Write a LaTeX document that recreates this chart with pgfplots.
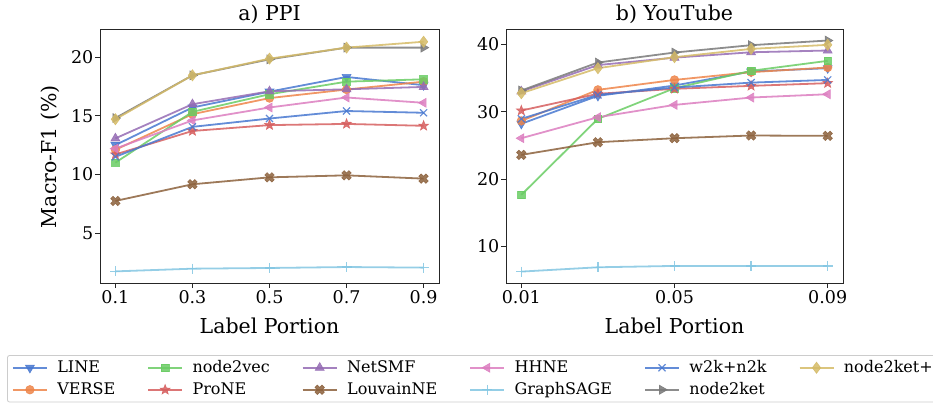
\documentclass[border=0pt]{standalone}
\usepackage{fontspec}
\setmainfont{DejaVu Serif}
\usepackage{pgfplots}
\pgfplotsset{compat=1.18}
\usetikzlibrary{plotmarks}

\definecolor{cblue}{HTML}{4878D0}
\definecolor{corange}{HTML}{EE854A}
\definecolor{cgreen}{HTML}{6ACC64}
\definecolor{cred}{HTML}{D65F5F}
\definecolor{cpurple}{HTML}{956CB4}
\definecolor{cbrown}{HTML}{8C613C}
\definecolor{cpink}{HTML}{DC7EC0}
\definecolor{cgray}{HTML}{797979}
\definecolor{colive}{HTML}{D5BB67}
\definecolor{ccyan}{HTML}{82C6E2}
\definecolor{axcol}{HTML}{262626}

\pgfdeclareplotmark{fstar}{%
  \pgfpathmoveto{\pgfpointpolar{90}{\pgfplotmarksize}}%
  \pgfpathlineto{\pgfpointpolar{126}{0.42\pgfplotmarksize}}%
  \pgfpathlineto{\pgfpointpolar{162}{\pgfplotmarksize}}%
  \pgfpathlineto{\pgfpointpolar{198}{0.42\pgfplotmarksize}}%
  \pgfpathlineto{\pgfpointpolar{234}{\pgfplotmarksize}}%
  \pgfpathlineto{\pgfpointpolar{270}{0.42\pgfplotmarksize}}%
  \pgfpathlineto{\pgfpointpolar{306}{\pgfplotmarksize}}%
  \pgfpathlineto{\pgfpointpolar{342}{0.42\pgfplotmarksize}}%
  \pgfpathlineto{\pgfpointpolar{18}{\pgfplotmarksize}}%
  \pgfpathlineto{\pgfpointpolar{54}{0.42\pgfplotmarksize}}%
  \pgfpathclose
  \pgfusepathqfillstroke}

\pgfdeclareplotmark{fX}{%
  \pgftransformrotate{45}%
  \pgfpathmoveto{\pgfpoint{0.33\pgfplotmarksize}{\pgfplotmarksize}}%
  \pgfpathlineto{\pgfpoint{0.33\pgfplotmarksize}{0.33\pgfplotmarksize}}%
  \pgfpathlineto{\pgfpoint{\pgfplotmarksize}{0.33\pgfplotmarksize}}%
  \pgfpathlineto{\pgfpoint{\pgfplotmarksize}{-0.33\pgfplotmarksize}}%
  \pgfpathlineto{\pgfpoint{0.33\pgfplotmarksize}{-0.33\pgfplotmarksize}}%
  \pgfpathlineto{\pgfpoint{0.33\pgfplotmarksize}{-\pgfplotmarksize}}%
  \pgfpathlineto{\pgfpoint{-0.33\pgfplotmarksize}{-\pgfplotmarksize}}%
  \pgfpathlineto{\pgfpoint{-0.33\pgfplotmarksize}{-0.33\pgfplotmarksize}}%
  \pgfpathlineto{\pgfpoint{-\pgfplotmarksize}{-0.33\pgfplotmarksize}}%
  \pgfpathlineto{\pgfpoint{-\pgfplotmarksize}{0.33\pgfplotmarksize}}%
  \pgfpathlineto{\pgfpoint{-0.33\pgfplotmarksize}{0.33\pgfplotmarksize}}%
  \pgfpathlineto{\pgfpoint{-0.33\pgfplotmarksize}{\pgfplotmarksize}}%
  \pgfpathclose
  \pgfusepathqfillstroke}

\pgfplotsset{
  sLINE/.style={color=cblue, opacity=0.85, line width=1.8pt, mark=triangle*, mark size=5.2pt, mark options={solid, rotate=180, line width=0.6pt}},
  sVERSE/.style={color=corange, opacity=0.85, line width=1.8pt, mark=*, mark size=4.3pt, mark options={solid, line width=0.6pt}},
  snodevec/.style={color=cgreen, opacity=0.85, line width=1.8pt, mark=square*, mark size=3.8pt, mark options={solid, line width=0.6pt}},
  sProNE/.style={color=cred, opacity=0.85, line width=1.8pt, mark=fstar, mark size=5.2pt, mark options={solid, line width=0.6pt}},
  sNetSMF/.style={color=cpurple, opacity=0.85, line width=1.8pt, mark=triangle*, mark size=5.2pt, mark options={solid, line width=0.6pt}},
  sLouvain/.style={color=cbrown, opacity=0.85, line width=1.8pt, mark=fX, mark size=5pt, mark options={solid, line width=0.6pt}},
  sHHNE/.style={color=cpink, opacity=0.85, line width=1.8pt, mark=triangle*, mark size=5.2pt, mark options={solid, rotate=90, line width=0.6pt}},
  sSAGE/.style={color=ccyan, opacity=0.85, line width=1.8pt, mark=+, mark size=5pt, mark options={solid, line width=1.2pt}},
  swk/.style={color=cblue, opacity=0.85, line width=1.8pt, mark=x, mark size=5pt, mark options={solid, line width=1.2pt}},
  snk/.style={color=cgray, opacity=0.85, line width=1.8pt, mark=triangle*, mark size=5.2pt, mark options={solid, rotate=-90, line width=0.6pt}},
  snkp/.style={color=colive, opacity=0.85, line width=1.8pt, mark=diamond*, mark size=5.6pt, mark options={solid, line width=0.6pt}},
  common/.style={
    scale only axis,
    height=253pt,
    tick align=outside,
    major tick length=5pt,
    xtick pos=bottom,
    ytick pos=left,
    scaled x ticks=false,
    scaled y ticks=false,
    axis line style={line width=1pt, color=axcol},
    tick style={line width=1pt, color=axcol},
    ticklabel style={font=\fontsize{17.5}{20}\selectfont, color=black},
    /pgf/number format/assume math mode=true,
    title style={font=\fontsize{20.5}{24}\selectfont, at={(axis description cs:0.5,1.04)}, anchor=center},
    label style={font=\fontsize{20.5}{24}\selectfont},
    xlabel style={at={(axis description cs:0.5,-0.17)}, anchor=center},
    y tick label style={inner sep=1.5pt},
    x tick label style={inner sep=2pt},
  },
}

\begin{document}
\begin{tikzpicture}
\useasboundingbox (0pt,0pt) rectangle (933pt,402pt);

\begin{axis}[common,
  name=left,
  at={(100pt,119pt)}, anchor=south west,
  width=339pt,
  xmin=0.06, xmax=0.94, ymin=0.75, ymax=22.3,
  xtick={0.1,0.3,0.5,0.7,0.9},
  xticklabels={0.1,0.3,0.5,0.7,0.9},
  ytick={5,10,15,20},
  yticklabels={5,10,15,20},
  title={a) PPI},
  xlabel={Label Portion},
  ylabel={Macro-F1 (\%)},
  ylabel style={at={(axis description cs:-0.1475,0.5)}, anchor=center, rotate=0},
  legend columns=6,
  legend cell align=left,
  legend image code/.code={\draw[mark repeat=2,mark phase=2,#1] plot coordinates {(0pt,0pt) (17pt,0pt) (34pt,0pt)};},
  legend style={
    at={(axis description cs:-0.274,-0.285)}, anchor=north west,
    draw=black!20, line width=0.8pt, rounded corners=2pt, fill=white,
    font=\fontsize{16}{19}\selectfont,
    inner xsep=4.5pt, inner ysep=3pt,
    nodes={inner sep=1.5pt, text height=12pt, text depth=3.5pt},
    row sep=3.5pt,
    /tikz/every odd column/.append style={column sep=8pt},
    /tikz/every even column/.append style={column sep=30.5pt},
  },
]
\addplot[sLINE, forget plot] coordinates {(0.1,12.5) (0.3,15.7) (0.5,17.05) (0.7,18.3) (0.9,17.6)};
\addplot[sVERSE, forget plot] coordinates {(0.1,12.1) (0.3,15.13) (0.5,16.5) (0.7,17.23) (0.9,17.9)};
\addplot[snodevec, forget plot] coordinates {(0.1,11.0) (0.3,15.33) (0.5,16.83) (0.7,17.9) (0.9,18.1)};
\addplot[sProNE, forget plot] coordinates {(0.1,11.7) (0.3,13.7) (0.5,14.2) (0.7,14.3) (0.9,14.14)};
\addplot[sNetSMF, forget plot] coordinates {(0.1,13.07) (0.3,15.98) (0.5,17.08) (0.7,17.25) (0.9,17.45)};
\addplot[sLouvain, forget plot] coordinates {(0.1,7.74) (0.3,9.16) (0.5,9.75) (0.7,9.92) (0.9,9.64)};
\addplot[sHHNE, forget plot] coordinates {(0.1,12.2) (0.3,14.6) (0.5,15.7) (0.7,16.55) (0.9,16.1)};
\addplot[sSAGE, forget plot] coordinates {(0.1,1.74) (0.3,1.97) (0.5,2.03) (0.7,2.11) (0.9,2.06)};
\addplot[swk, forget plot] coordinates {(0.1,11.5) (0.3,14.05) (0.5,14.76) (0.7,15.4) (0.9,15.25)};
\addplot[snk, forget plot] coordinates {(0.1,14.8) (0.3,18.44) (0.5,19.8) (0.7,20.8) (0.9,20.8)};
\addplot[snkp, forget plot] coordinates {(0.1,14.7) (0.3,18.44) (0.5,19.86) (0.7,20.8) (0.9,21.3)};

\addlegendimage{sLINE}\addlegendentry{LINE}
\addlegendimage{snodevec}\addlegendentry{node2vec}
\addlegendimage{sNetSMF}\addlegendentry{NetSMF}
\addlegendimage{sHHNE}\addlegendentry{HHNE}
\addlegendimage{swk}\addlegendentry{w2k+n2k}
\addlegendimage{snkp}\addlegendentry{node2ket+}
\addlegendimage{sVERSE}\addlegendentry{VERSE}
\addlegendimage{sProNE}\addlegendentry{ProNE}
\addlegendimage{sLouvain}\addlegendentry{LouvainNE}
\addlegendimage{sSAGE}\addlegendentry{GraphSAGE}
\addlegendimage{snk}\addlegendentry{node2ket}
\end{axis}

\begin{axis}[common,
  name=right,
  at={(506pt,119pt)}, anchor=south west,
  width=337pt,
  xmin=0.006, xmax=0.094, ymin=4.6, ymax=42.1,
  xtick={0.01,0.05,0.09},
  xticklabels={0.01,0.05,0.09},
  ytick={10,20,30,40},
  yticklabels={10,20,30,40},
  title={b) YouTube},
  xlabel={Label Portion},
]
\addplot[sLINE] coordinates {(0.01,28.2) (0.03,32.34) (0.05,33.87) (0.07,35.95) (0.09,36.44)};
\addplot[sVERSE] coordinates {(0.01,28.63) (0.03,33.23) (0.05,34.7) (0.07,35.85) (0.09,36.54)};
\addplot[snodevec] coordinates {(0.01,17.66) (0.03,28.93) (0.05,33.47) (0.07,36.05) (0.09,37.53)};
\addplot[sProNE] coordinates {(0.01,30.16) (0.03,32.64) (0.05,33.38) (0.07,33.82) (0.09,34.22)};
\addplot[sNetSMF] coordinates {(0.01,33.0) (0.03,36.9) (0.05,38.0) (0.07,38.8) (0.09,39.06)};
\addplot[sLouvain] coordinates {(0.01,23.59) (0.03,25.47) (0.05,26.06) (0.07,26.46) (0.09,26.41)};
\addplot[sHHNE] coordinates {(0.01,26.06) (0.03,29.17) (0.05,31.0) (0.07,32.09) (0.09,32.58)};
\addplot[sSAGE] coordinates {(0.01,6.29) (0.03,6.93) (0.05,7.13) (0.07,7.13) (0.09,7.13)};
\addplot[swk] coordinates {(0.01,28.93) (0.03,32.49) (0.05,33.57) (0.07,34.3) (0.09,34.7)};
\addplot[snk] coordinates {(0.01,33.13) (0.03,37.28) (0.05,38.76) (0.07,39.85) (0.09,40.54)};
\addplot[snkp] coordinates {(0.01,32.73) (0.03,36.44) (0.05,38.07) (0.07,39.3) (0.09,39.9)};
\end{axis}
\end{tikzpicture}
\end{document}
